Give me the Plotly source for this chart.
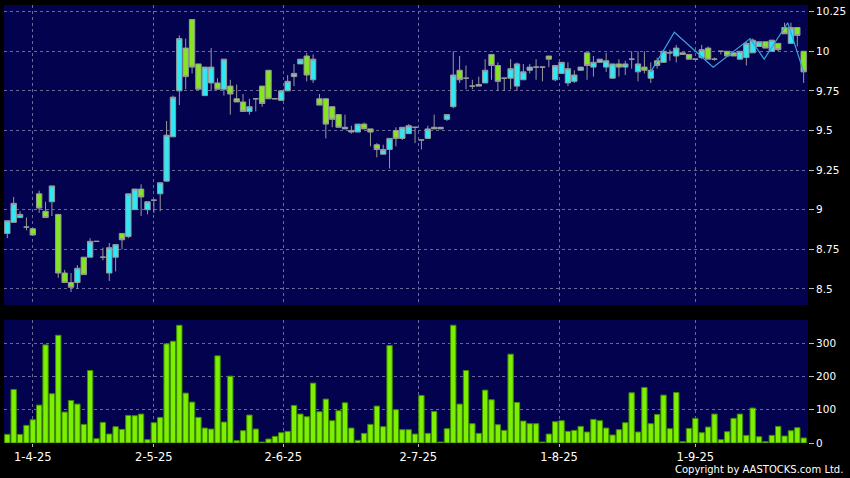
import plotly.graph_objects as go

# ---- data ----
opens = [8.85, 8.92, 8.95, 8.89, 8.88, 9.10, 8.99, 9.05, 8.97, 8.60,
         8.54, 8.54, 8.70, 8.70, 8.80, 8.70, 8.60, 8.70, 8.85, 8.83,
         9.00, 9.13, 9.00, 9.06, 9.10, 9.18, 9.46, 9.75, 10.02, 10.20,
         9.92, 9.72, 9.80, 9.80, 9.76, 9.78, 9.70, 9.68, 9.62, 9.70,
         9.78, 9.88, 9.70, 9.69, 9.75, 9.84, 9.92, 9.97, 9.82, 9.70,
         9.70, 9.65, 9.60, 9.51, 9.50, 9.49, 9.54, 9.51, 9.41, 9.35,
         9.38, 9.50, 9.45, 9.48, 9.52, 9.44, 9.45, 9.52, 9.51, 9.57,
         9.65, 9.88, 9.83, 9.78, 9.79, 9.80, 9.98, 9.91, 9.83, 9.83,
         9.78, 9.82, 9.88, 9.90, 9.90, 9.97, 9.82, 9.86, 9.80, 9.81,
         9.88, 9.99, 9.90, 9.93, 9.90, 9.83, 9.92, 9.90, 9.95, 9.87,
         9.90, 9.83, 9.94, 9.93, 9.99, 9.97, 9.99, 9.98, 9.95, 9.96,
         10.02, 9.95, 10.00, 10.00, 9.99, 9.95, 9.96, 9.99, 10.03, 10.06,
         10.00, 10.05, 10.15, 10.05, 10.15, 10.00]
highs = [8.93, 9.08, 8.99, 8.95, 8.88, 9.12, 9.05, 9.15, 8.97, 8.62,
         8.60, 8.65, 8.70, 8.82, 8.80, 8.76, 8.79, 8.78, 8.85, 9.10,
         9.13, 9.16, 9.05, 9.06, 9.17, 9.56, 9.72, 10.10, 10.08, 10.20,
         9.92, 9.90, 10.02, 9.83, 9.95, 9.82, 9.79, 9.73, 9.70, 9.70,
         9.78, 9.88, 9.70, 9.75, 9.85, 9.92, 9.95, 9.99, 9.98, 9.73,
         9.70, 9.65, 9.60, 9.60, 9.53, 9.54, 9.55, 9.51, 9.42, 9.41,
         9.45, 9.52, 9.52, 9.54, 9.52, 9.44, 9.53, 9.60, 9.52, 9.60,
         10.00, 9.97, 9.91, 9.82, 9.84, 9.95, 9.98, 9.93, 9.83, 9.95,
         9.93, 9.92, 9.92, 9.95, 9.90, 9.97, 9.91, 9.93, 9.93, 9.88,
         9.90, 9.99, 9.97, 9.95, 9.99, 9.92, 9.95, 9.94, 10.00, 10.00,
         10.00, 9.93, 9.96, 10.01, 10.01, 10.04, 9.99, 9.98, 9.95, 10.04,
         10.03, 9.96, 10.00, 10.00, 9.99, 10.00, 10.06, 10.08, 10.06, 10.06,
         10.07, 10.05, 10.18, 10.18, 10.15, 10.00]
lows = [8.82, 8.92, 8.95, 8.87, 8.84, 8.98, 8.95, 8.96, 8.57, 8.54,
        8.48, 8.50, 8.59, 8.70, 8.80, 8.68, 8.55, 8.61, 8.75, 8.82,
        9.00, 8.96, 8.97, 8.98, 8.99, 9.18, 9.46, 9.66, 9.76, 9.86,
        9.76, 9.72, 9.75, 9.76, 9.72, 9.60, 9.68, 9.62, 9.60, 9.62,
        9.65, 9.70, 9.70, 9.69, 9.75, 9.78, 9.92, 9.81, 9.80, 9.66,
        9.45, 9.52, 9.52, 9.51, 9.48, 9.49, 9.51, 9.40, 9.33, 9.35,
        9.26, 9.40, 9.44, 9.48, 9.42, 9.38, 9.45, 9.51, 9.51, 9.56,
        9.64, 9.80, 9.76, 9.76, 9.78, 9.80, 9.82, 9.75, 9.75, 9.76,
        9.75, 9.82, 9.86, 9.82, 9.81, 9.90, 9.81, 9.86, 9.78, 9.80,
        9.88, 9.82, 9.84, 9.93, 9.87, 9.83, 9.84, 9.85, 9.89, 9.81,
        9.86, 9.80, 9.89, 9.93, 9.94, 9.93, 9.98, 9.95, 9.95, 9.95,
        9.95, 9.94, 9.98, 9.97, 9.97, 9.95, 9.91, 9.99, 10.03, 10.02,
        10.00, 10.00, 10.11, 10.05, 10.03, 9.80]
closes = [8.93, 9.04, 8.97, 8.89, 8.84, 9.01, 8.95, 9.15, 8.60, 8.54,
          8.51, 8.63, 8.59, 8.80, 8.80, 8.70, 8.76, 8.78, 8.81, 9.10,
          9.13, 9.08, 9.05, 9.06, 9.17, 9.47, 9.71, 10.08, 9.84, 9.90,
          9.76, 9.90, 9.90, 9.76, 9.95, 9.73, 9.68, 9.62, 9.65, 9.70,
          9.67, 9.70, 9.70, 9.75, 9.81, 9.86, 9.95, 9.85, 9.95, 9.66,
          9.54, 9.57, 9.52, 9.52, 9.49, 9.54, 9.51, 9.49, 9.38, 9.38,
          9.45, 9.45, 9.52, 9.53, 9.52, 9.44, 9.51, 9.51, 9.52, 9.60,
          9.85, 9.82, 9.83, 9.78, 9.78, 9.88, 9.91, 9.81, 9.83, 9.89,
          9.92, 9.87, 9.90, 9.90, 9.90, 9.95, 9.91, 9.93, 9.89, 9.85,
          9.90, 9.91, 9.93, 9.95, 9.94, 9.92, 9.90, 9.92, 9.95, 9.92,
          9.88, 9.88, 9.91, 10.00, 9.99, 10.02, 9.98, 9.95, 9.95, 10.01,
          9.95, 9.95, 10.00, 9.97, 9.97, 10.00, 10.05, 10.07, 10.06, 10.02,
          10.07, 10.01, 10.11, 10.15, 10.10, 9.87]
volumes = [26, 161, 26, 53, 70, 114, 295, 148, 324, 93,
           128, 117, 56, 218, 13, 62, 27, 49, 41, 83,
           82, 87, 10, 61, 77, 298, 306, 354, 150, 123,
           77, 45, 42, 262, 63, 201, 7, 37, 84, 42,
           3, 12, 20, 31, 35, 113, 87, 79, 180, 94,
           132, 67, 97, 121, 45, 8, 29, 56, 111, 49,
           293, 100, 40, 40, 27, 143, 29, 95, 3, 43,
           354, 117, 218, 58, 29, 159, 130, 55, 38, 267,
           122, 66, 58, 58, 3, 27, 64, 67, 35, 38,
           50, 33, 71, 67, 45, 24, 40, 61, 151, 33,
           167, 58, 86, 144, 43, 152, 4, 44, 74, 31,
           48, 87, 10, 34, 74, 87, 23, 105, 19, 4,
           23, 50, 21, 37, 46, 15]

# thin overlay line near the end of the period
line_x = [101, 104.7, 110.8, 116.6, 118.8, 122.5, 125]
line_y = [9.87, 10.12, 9.90, 10.08, 9.95, 10.18, 9.87]

date_tick_pos = [4, 23, 43.3, 64.5, 86.6, 108]
date_tick_labels = ["1-4-25", "2-5-25", "2-6-25", "2-7-25", "1-8-25", "1-9-25"]
price_ticks = [8.5, 8.75, 9, 9.25, 9.5, 9.75, 10, 10.25]
price_tick_labels = ["8.5", "8.75", "9", "9.25", "9.5", "9.75", "10", "10.25"]
vol_ticks = [0, 100, 200, 300]
vol_tick_labels = ["0", "100", "200", "300"]

# ---- styling ----
NAVY = "#02024f"
CYAN = "#2ee8f4"
GREEN = "#84e620"
WICK = "#9a9a9a"
GRID = "#6a6a98"
VOLG = "#7cf000"
FONT = "DejaVu Sans"

idx = list(range(len(opens)))
normal = [i for i in idx if opens[i] != closes[i]]
doji = [i for i in idx if opens[i] == closes[i]]


def pick(lst, ids):
    return [lst[i] for i in ids]


fig = go.Figure()
fig.add_trace(go.Candlestick(
    x=normal, open=pick(opens, normal), high=pick(highs, normal),
    low=pick(lows, normal), close=pick(closes, normal),
    increasing=dict(fillcolor=CYAN, line=dict(color=WICK, width=1)),
    decreasing=dict(fillcolor=GREEN, line=dict(color=WICK, width=1)),
    whiskerwidth=0, xaxis="x", yaxis="y", hoverinfo="skip"))
fig.add_trace(go.Candlestick(
    x=doji, open=pick(opens, doji), high=pick(highs, doji),
    low=pick(lows, doji), close=pick(closes, doji),
    increasing=dict(fillcolor=WICK, line=dict(color=WICK, width=1)),
    decreasing=dict(fillcolor=WICK, line=dict(color=WICK, width=1)),
    whiskerwidth=0, xaxis="x", yaxis="y", hoverinfo="skip"))
fig.add_trace(go.Scatter(
    x=line_x, y=line_y, mode="lines",
    line=dict(color="#3b9fe0", width=1.2), xaxis="x", yaxis="y",
    hoverinfo="skip"))
fig.add_trace(go.Bar(
    x=idx, y=volumes, width=0.84,
    marker=dict(color=VOLG, line=dict(color="#3f8a00", width=1)),
    xaxis="x2", yaxis="y2", hoverinfo="skip"))

xr = [-0.52, 125.68]
common_x = dict(range=xr, tickvals=date_tick_pos, ticktext=date_tick_labels,
                showgrid=True, gridcolor=GRID, griddash="3px,3px", gridwidth=1,
                zeroline=False, showline=False, fixedrange=True)
common_y = dict(side="right", showgrid=True, gridcolor=GRID, griddash="3px,3px",
                gridwidth=1, zeroline=False, showline=False, ticks="outside",
                ticklen=5, tickcolor="#bbbbbb", tickwidth=1, fixedrange=True,
                tickfont=dict(family=FONT, size=10.5, color="#ffffff"))

fig.update_layout(
    width=850, height=478,
    margin=dict(l=4, r=42, t=5, b=35),
    paper_bgcolor="#000000", plot_bgcolor=NAVY,
    showlegend=False, boxgap=0.16, boxgroupgap=0, bargap=0,
    hovermode=False,
    xaxis=dict(**common_x, anchor="y", showticklabels=False,
               rangeslider=dict(visible=False)),
    yaxis=dict(**common_y, domain=[0.315, 1.0], range=[8.398, 10.292],
               tickvals=price_ticks, ticktext=price_tick_labels),
    xaxis2=dict(**common_x, anchor="y2", ticks="outside", ticklen=3,
                tickcolor="#bbbbbb",
                tickfont=dict(family=FONT, size=11.5, color="#ffffff")),
    yaxis2=dict(**common_y, domain=[0.0, 0.281], range=[0, 370],
                tickvals=vol_ticks, ticktext=vol_tick_labels),
    annotations=[dict(text="Copyright by AASTOCKS.com Ltd.", xref="paper",
                      yref="paper", x=1.046, y=-0.0616, xanchor="right",
                      yanchor="middle", showarrow=False,
                      font=dict(family=FONT, size=10, color="#ffffff"))],
)

fig.write_html(
    "out.html",
    config={"displayModeBar": False, "staticPlot": True},
    post_script="document.body.style.margin='0px';"
                "document.body.style.background='#000000';")
